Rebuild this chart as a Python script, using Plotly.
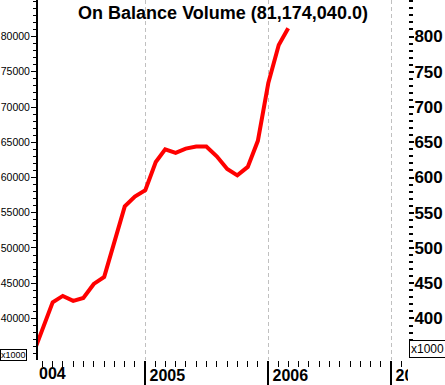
import plotly.graph_objects as go

# ---- data (values in thousands) ----
months = [
    "2004-02-01", "2004-03-01", "2004-04-01", "2004-05-01", "2004-06-01",
    "2004-07-01", "2004-08-01", "2004-09-01", "2004-10-01", "2004-11-01",
    "2004-12-01", "2005-01-01", "2005-02-01", "2005-03-01", "2005-04-01",
    "2005-05-01", "2005-06-01", "2005-07-01", "2005-08-01", "2005-09-01",
    "2005-10-01", "2005-11-01", "2005-12-01", "2006-01-01", "2006-02-01",
    "2006-03-01",
]
obv = [
    34700, 38200, 42300, 43200, 42500,
    42900, 44900, 45900, 50900, 55900,
    57300, 58200, 62200, 64000, 63500,
    64100, 64400, 64400, 63000, 61200,
    60300, 61500, 65200, 73400, 78800,
    81174,
]
title_text = "On Balance Volume (81,174,040.0)"
left_ticks = [40000, 45000, 50000, 55000, 60000, 65000, 70000, 75000, 80000]
right_ticks = [400, 450, 500, 550, 600, 650, 700, 750, 800]
year_ticks = ["2005-01-01", "2006-01-01", "2007-01-01"]
year_labels = ["2005", "2006", "2007"]
first_year_label = "004"
scale_label = "x1000"

W, H = 445, 385
ML, MR, MT, MB = 38, 37, 0, 25
PW, PH = W - ML - MR, H - MT - MB

y_range = [34110, 85180]
FONT = "Liberation Sans, Arial, sans-serif"

fig = go.Figure()
fig.add_trace(go.Scatter(
    x=months, y=obv, mode="lines",
    line=dict(color="#ff0000", width=4),
    hoverinfo="skip", showlegend=False,
))
fig.add_trace(go.Scatter(
    x=months, y=[v / 100 for v in obv], yaxis="y2", mode="lines",
    line=dict(color="rgba(0,0,0,0)", width=0),
    hoverinfo="skip", showlegend=False,
))

fig.update_layout(
    width=W, height=H,
    margin=dict(l=ML, r=MR, t=MT, b=MB, pad=0, autoexpand=False),
    paper_bgcolor="white", plot_bgcolor="white",
    showlegend=False,
    title=dict(
        text=title_text, x=(ML + PW / 2) / W, xanchor="center",
        y=1 - 13 / H, yanchor="middle", yref="container",
        font=dict(family=FONT, size=18, color="black", weight="bold"),
    ),
    xaxis=dict(
        type="date", automargin=False,
        range=["2004-02-17 12:00", "2007-02-19 14:00"],
        tickmode="array", tickvals=year_ticks, ticktext=year_labels,
        ticks="outside", ticklen=25, tickwidth=1.5, tickcolor="black",
        showgrid=True, gridcolor="#c0c0c0", griddash="4px,3px", gridwidth=1,
        showline=False, zeroline=False,
        tickfont=dict(family=FONT, size=16, color="black", weight="bold"),
        ticklabelshift=22, ticklabelstandoff=-24,
        minor=dict(ticks="outside", ticklen=6, tickwidth=1, tickcolor="black",
                   dtick="M1", tick0="2004-01-01", showgrid=False),
    ),
    yaxis=dict(
        range=y_range, automargin=False,
        tickmode="array", tickvals=left_ticks, tickformat="d",
        ticks="outside", ticklen=5, tickwidth=1, tickcolor="black",
        showline=True, linecolor="black", linewidth=2,
        showgrid=False, zeroline=False,
        tickfont=dict(family=FONT, size=10.5, color="black"),
        ticklabelstandoff=-1,
        minor=dict(ticks="outside", ticklen=3, tickwidth=1, tickcolor="black",
                   dtick=1000, tick0=0, showgrid=False),
    ),
    yaxis2=dict(
        overlaying="y", side="right", anchor="x", automargin=False,
        range=[y_range[0] / 100, y_range[1] / 100],
        tickmode="array", tickvals=right_ticks, tickformat="d",
        ticks="outside", ticklen=5, tickwidth=1.5, tickcolor="black",
        showline=False, showgrid=False, zeroline=False,
        tickfont=dict(family=FONT, size=17, color="black", weight="bold"),
        ticklabelstandoff=-3,
        minor=dict(ticks="outside", ticklen=4, tickwidth=1.5, tickcolor="black",
                   dtick=10, tick0=0, showgrid=False),
    ),
    shapes=[
        dict(type="rect", xref="paper", yref="paper",
             x0=1.0, x1=1 + MR / PW, y0=-MB / PH, y1=-1 / PH,
             fillcolor="white", line=dict(width=0), layer="above"),
    ],
    annotations=[
        dict(text=first_year_label, xref="paper", yref="paper",
             x=-1 / PW, y=-13 / PH, xanchor="left", yanchor="middle",
             showarrow=False,
             font=dict(family=FONT, size=16, color="black", weight="bold")),
        dict(text=scale_label, xref="paper", yref="paper",
             x=-ML / PW, y=-(355 - PH) / PH, xanchor="left", yanchor="middle",
             showarrow=False, bgcolor="white", bordercolor="black",
             borderwidth=1, borderpad=0,
             font=dict(family=FONT, size=9, color="black")),
        dict(text=scale_label, xref="paper", yref="paper",
             x=1 + 1 / PW, y=(PH - 349) / PH, xanchor="left", yanchor="middle",
             showarrow=False, bgcolor="white", bordercolor="black",
             borderwidth=1, borderpad=1,
             font=dict(family=FONT, size=12, color="black")),
    ],
)

fig.write_html(
    "out.html",
    config={"displayModeBar": False},
    post_script="document.body.style.margin='0px';document.body.style.overflow='hidden';",
)
